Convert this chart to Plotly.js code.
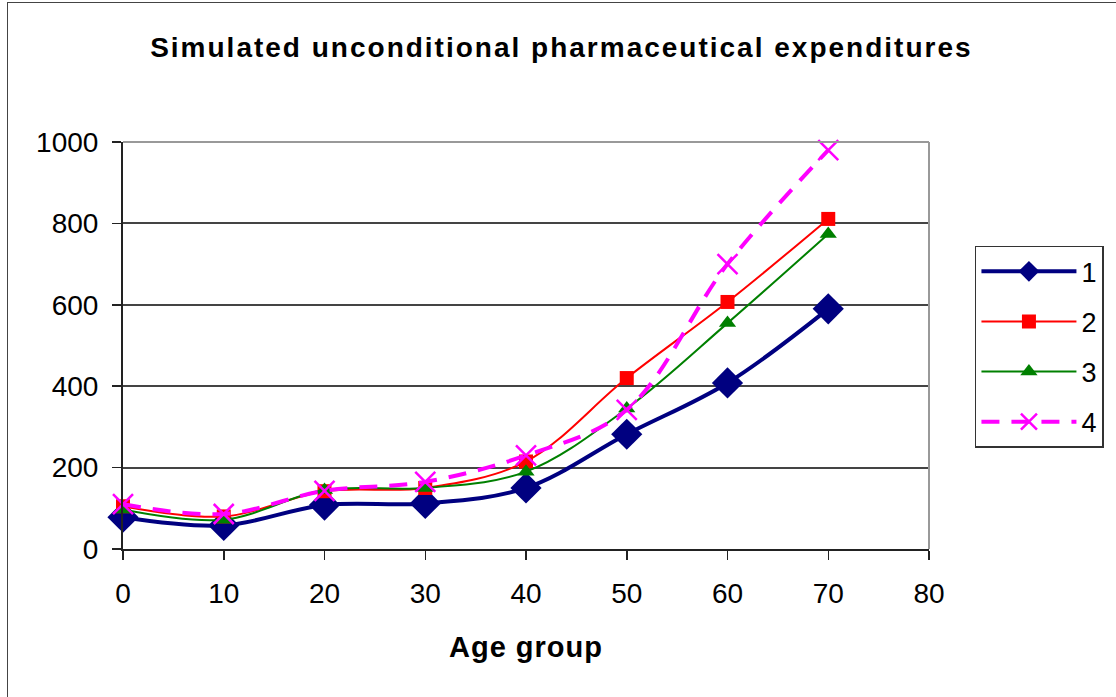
<!DOCTYPE html>
<html><head><meta charset="utf-8">
<script src="https://cdn.plot.ly/plotly-3.0.1.min.js"></script>
<style>
html,body{margin:0;padding:0;background:#fff;}
#wrap{position:relative;width:1116px;height:697px;overflow:hidden;}
#chart{width:1116px;height:697px;}
#frame{position:absolute;left:7px;top:2px;width:1120px;height:720px;border:1.5px solid #444;pointer-events:none;}
.gtitle{letter-spacing:2px;}
.g-xtitle text{letter-spacing:1px;}
</style></head>
<body><div id="wrap"><div id="chart"></div><div id="frame"></div></div>
<script>
const ageGroups = [0, 10, 20, 30, 40, 50, 60, 70];
const series1 = [78, 58, 108, 112, 150, 282, 408, 590];
const series2 = [105, 80, 142, 150, 215, 420, 607, 811];
const series3 = [97, 72, 145, 150, 190, 345, 555, 774];
const series4 = [110, 86, 143, 165, 230, 342, 700, 980];
const names = ['1', '2', '3', '4'];
const FONT = 'Liberation Sans, Arial, sans-serif';

const traces = [
  {x: ageGroups, y: series1, name: names[0], legendgroup: 'a',
   line: {color: '#000080', width: 4, shape: 'spline'},
   marker: {symbol: 'diamond', size: 24, color: '#000080'}},
  {x: ageGroups, y: series2, name: names[1], legendgroup: 'b',
   line: {color: '#FF0000', width: 2, shape: 'spline'},
   marker: {symbol: 'square', size: 14, color: '#FF0000'}},
  {x: ageGroups, y: series3, name: names[2], legendgroup: 'c',
   line: {color: '#008000', width: 2, shape: 'spline'},
   marker: {symbol: 'triangle-up', size: 15, color: '#008000'}},
  {x: ageGroups, y: series4, name: names[3], legendgroup: 'd',
   line: {color: '#FF00FF', width: 4, shape: 'spline', dash: '18px,12px'},
   marker: {symbol: 'x-thin-open', size: 20, color: '#FF00FF', line: {color: '#FF00FF', width: 2.5}}}
].map(t => Object.assign({type: 'scatter', mode: 'lines+markers', cliponaxis: false}, t));

const layout = {
  width: 1116, height: 697,
  margin: {l: 123, r: 187, t: 142, b: 148, pad: 0},
  paper_bgcolor: '#fff', plot_bgcolor: '#fff',
  font: {family: FONT, size: 28, color: '#000'},
  title: {text: '<b>Simulated unconditional pharmaceutical expenditures</b>',
          font: {family: FONT, size: 28, color: '#000'},
          x: 0.503, xref: 'container', xanchor: 'center', y: 0.932, yref: 'container', yanchor: 'middle'},
  xaxis: {range: [0, 80], dtick: 10, tick0: 0, ticks: 'outside', ticklen: 9, tickwidth: 1.5,
          tickcolor: '#222', showline: true, linecolor: '#222', linewidth: 2, showgrid: false,
          zeroline: false, automargin: false, ticklabelstandoff: 9,
          tickfont: {family: FONT, size: 28, color: '#000'},
          title: {text: '<b>Age group</b>', font: {family: FONT, size: 29, color: '#000'}, standoff: 29}},
  yaxis: {range: [0, 1000], dtick: 200, tick0: 0, ticks: 'outside', ticklen: 9, tickwidth: 1.5,
          tickcolor: '#222', showline: true, linecolor: '#222', linewidth: 2,
          showgrid: true, gridcolor: '#444', gridwidth: 2, zeroline: false, automargin: false,
          ticklabelstandoff: 8, tickfont: {family: FONT, size: 28, color: '#000'}},
  legend: {x: 1.057, xanchor: 'left', y: 0.745, yanchor: 'top', bgcolor: '#fff',
           bordercolor: '#333', borderwidth: 1.5, font: {family: FONT, size: 27, color: '#000'},
           tracegroupgap: 12, itemwidth: 95},
  shapes: [
    {type: 'line', xref: 'paper', yref: 'paper', x0: 0, x1: 1, y0: 1, y1: 1, line: {color: '#999', width: 2}, layer: 'above'},
    {type: 'line', xref: 'paper', yref: 'paper', x0: 1, x1: 1, y0: 0, y1: 1, line: {color: '#999', width: 2}, layer: 'above'}
  ],
  showlegend: true
};

Plotly.newPlot('chart', traces, layout, {displayModeBar: false, staticPlot: true});
</script></body></html>
